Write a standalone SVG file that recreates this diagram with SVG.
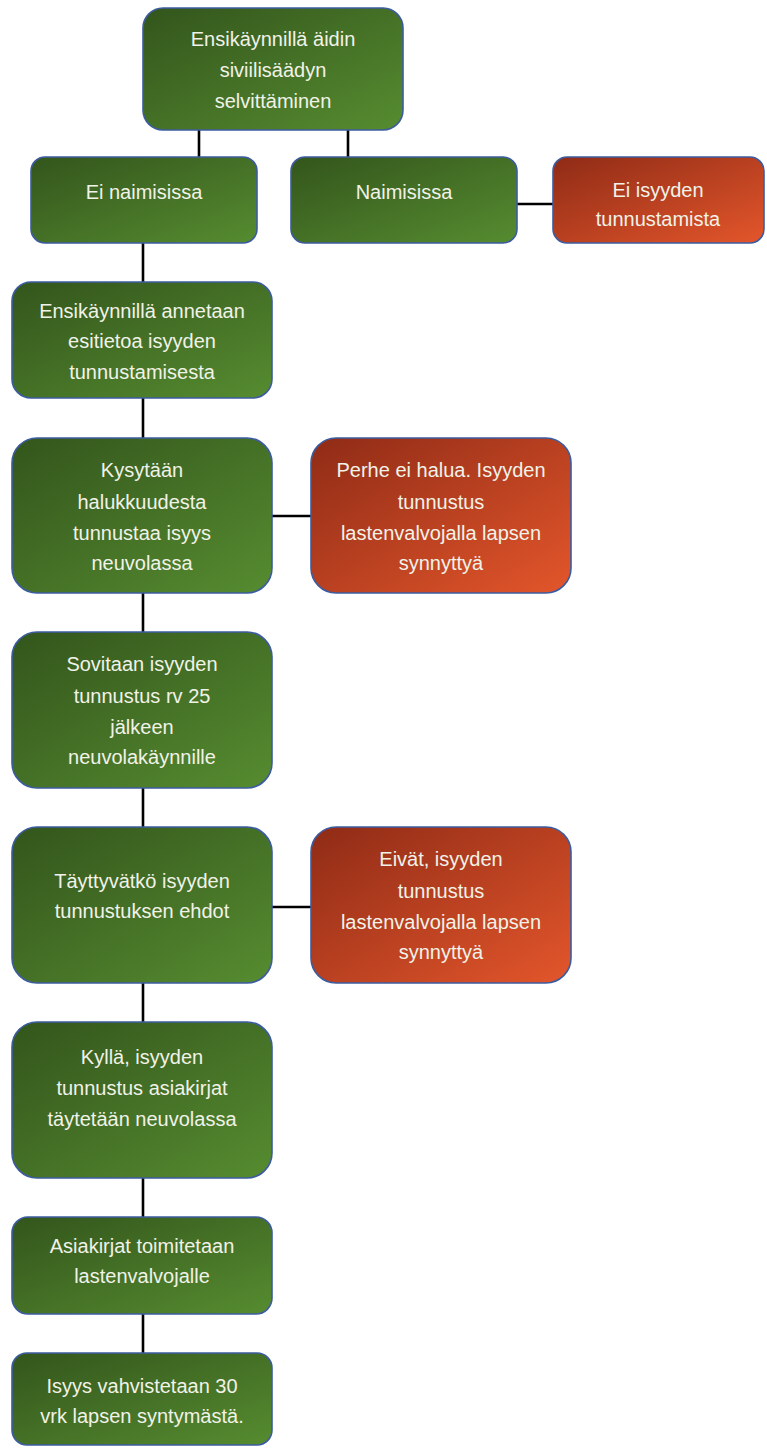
<svg xmlns="http://www.w3.org/2000/svg" width="767" height="1448" viewBox="0 0 767 1448">
<defs>
<linearGradient id="gG" x1="0" y1="0" x2="1" y2="1">
<stop offset="0" stop-color="#33551c"/>
<stop offset="1" stop-color="#568c30"/>
</linearGradient>
<linearGradient id="gR" x1="0" y1="0" x2="1" y2="1">
<stop offset="0" stop-color="#8f2b16"/>
<stop offset="1" stop-color="#e3562b"/>
</linearGradient>
<style>
.g{fill:url(#gG);stroke:#3c5ca0;stroke-width:1.6}
.r{fill:url(#gR);stroke:#3c5ca0;stroke-width:1.6}
text{font-family:"Liberation Sans",Arial,sans-serif;font-size:20px;fill:#f1f2e8;text-anchor:middle}
.c line{stroke:#000;stroke-width:2.6}
</style>
</defs>
<g class="c" id="connectors">
<line x1="199" y1="130" x2="199" y2="157"/>
<line x1="348" y1="130" x2="348" y2="157"/>
<line x1="517" y1="204" x2="553" y2="204"/>
<line x1="143" y1="243" x2="143" y2="282"/>
<line x1="143" y1="398" x2="143" y2="438"/>
<line x1="272" y1="516" x2="311" y2="516"/>
<line x1="143" y1="593" x2="143" y2="632"/>
<line x1="143" y1="788" x2="143" y2="827"/>
<line x1="272" y1="907" x2="311" y2="907"/>
<line x1="143" y1="983" x2="143" y2="1022"/>
<line x1="143" y1="1178" x2="143" y2="1217"/>
<line x1="143" y1="1314" x2="143" y2="1353"/>
</g>
<g id="n1"><rect class="g" x="143" y="8" width="260" height="122" rx="20"/>
<text x="273" y="46">Ensikäynnillä äidin</text><text x="273" y="77">siviilisäädyn</text><text x="273" y="108">selvittäminen</text></g>
<g id="n2"><rect class="g" x="31" y="157" width="226" height="86" rx="14"/>
<text x="144" y="199">Ei naimisissa</text></g>
<g id="n3"><rect class="g" x="291" y="157" width="226" height="86" rx="14"/>
<text x="404" y="199">Naimisissa</text></g>
<g id="n4"><rect class="r" x="553" y="157" width="211" height="86" rx="14"/>
<text x="658" y="197">Ei isyyden</text><text x="658" y="226">tunnustamista</text></g>
<g id="n5"><rect class="g" x="12" y="282" width="260" height="116" rx="19"/>
<text x="142" y="318">Ensikäynnillä annetaan</text><text x="142" y="348">esitietoa isyyden</text><text x="142" y="379">tunnustamisesta</text></g>
<g id="n6"><rect class="g" x="12" y="438" width="260" height="155" rx="25"/>
<text x="142" y="477">Kysytään</text><text x="142" y="509">halukkuudesta</text><text x="142" y="540">tunnustaa isyys</text><text x="142" y="570">neuvolassa</text></g>
<g id="n7"><rect class="r" x="311" y="438" width="260" height="155" rx="25"/>
<text x="441" y="477">Perhe ei halua. Isyyden</text><text x="441" y="509">tunnustus</text><text x="441" y="540">lastenvalvojalla lapsen</text><text x="441" y="570">synnyttyä</text></g>
<g id="n8"><rect class="g" x="12" y="632" width="260" height="156" rx="25"/>
<text x="142" y="671">Sovitaan isyyden</text><text x="142" y="703">tunnustus rv 25</text><text x="142" y="734">jälkeen</text><text x="142" y="764">neuvolakäynnille</text></g>
<g id="n9"><rect class="g" x="12" y="827" width="260" height="156" rx="25"/>
<text x="142" y="888">Täyttyvätkö isyyden</text><text x="142" y="918">tunnustuksen ehdot</text></g>
<g id="n10"><rect class="r" x="311" y="827" width="260" height="156" rx="25"/>
<text x="441" y="866">Eivät, isyyden</text><text x="441" y="898">tunnustus</text><text x="441" y="929">lastenvalvojalla lapsen</text><text x="441" y="959">synnyttyä</text></g>
<g id="n11"><rect class="g" x="12" y="1022" width="260" height="156" rx="25"/>
<text x="142" y="1064">Kyllä, isyyden</text><text x="142" y="1095">tunnustus asiakirjat</text><text x="142" y="1126">täytetään neuvolassa</text></g>
<g id="n12"><rect class="g" x="12" y="1217" width="260" height="97" rx="16"/>
<text x="142" y="1253">Asiakirjat toimitetaan</text><text x="142" y="1283">lastenvalvojalle</text></g>
<g id="n13"><rect class="g" x="12" y="1353" width="260" height="92" rx="15"/>
<text x="142" y="1393">Isyys vahvistetaan 30</text><text x="142" y="1423">vrk lapsen syntymästä.</text></g>
</svg>
